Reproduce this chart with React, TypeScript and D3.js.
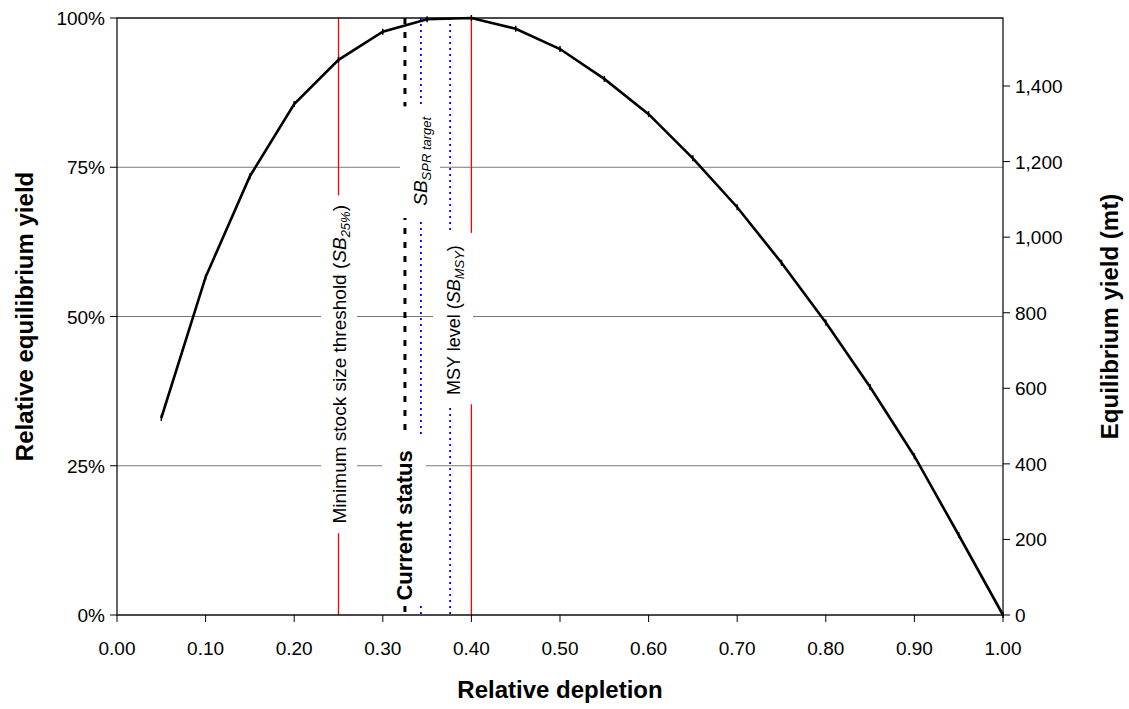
import * as d3 from "d3";

const depletion = [0.05, 0.1, 0.15, 0.2, 0.25, 0.3, 0.35, 0.4, 0.45, 0.5, 0.55, 0.6, 0.65, 0.7, 0.75, 0.8, 0.85, 0.9, 0.95, 1.0];
const relYield = [0.33, 0.566, 0.735, 0.856, 0.93, 0.977, 0.998, 1.0, 0.982, 0.948, 0.898, 0.839, 0.765, 0.683, 0.59, 0.49, 0.382, 0.266, 0.134, 0];
const maxYieldMt = 1580;
const xTicks = d3.range(0, 11).map((i) => i / 10);
const leftTicks = [0, 0.25, 0.5, 0.75, 1];
const rightTicks = [0, 200, 400, 600, 800, 1000, 1200, 1400];
const refLines = [
  { x: 0.25, color: "#ff0000", dash: "", width: 1.3 },
  { x: 0.325, color: "#000", dash: "6,8", width: 3 },
  { x: 0.343, color: "#0000ff", dash: "2,4", width: 1.8 },
  { x: 0.376, color: "#0000ff", dash: "2,4", width: 1.8 },
  { x: 0.4, color: "#ff0000", dash: "", width: 1.3 },
];

const W = 1129, H = 709;
const m = { left: 117, right: 1003, top: 18, bottom: 615 };

export default function App() {
  const x = d3.scaleLinear().domain([0, 1]).range([m.left, m.right]);
  const y = d3.scaleLinear().domain([0, 1]).range([m.bottom, m.top]);
  const y2 = d3.scaleLinear().domain([0, maxYieldMt]).range([m.bottom, m.top]);
  const pts = depletion.map((d, i) => [x(d), y(relYield[i])] as [number, number]);
  const line = d3.line()(pts) || "";
  const font = "Liberation Sans, Arial, sans-serif";
  // white boxes behind the rotated labels
  const boxes = [
    { cx: 339, y0: 0.137, y1: 0.703, hw: 18 },
    { cx: 404, y0: 0.018, y1: 0.298, hw: 22 },
    { cx: 420, y0: 0.665, y1: 0.852, hw: 20 },
    { cx: 453, y0: 0.353, y1: 0.64, hw: 20 },
  ];
  return (
    <svg width={W} height={H} style={{ position: "absolute", left: 0, top: 0 }} fontFamily={font}>
      {leftTicks.map((t) => (
        <line key={t} x1={m.left} x2={m.right} y1={y(t)} y2={y(t)} stroke="#777" strokeWidth={1.2} />
      ))}
      {refLines.map((r) => (
        <line key={r.x} x1={x(r.x)} x2={x(r.x)} y1={m.top} y2={m.bottom} stroke={r.color} strokeWidth={r.width} strokeDasharray={r.dash || undefined} />
      ))}
      {boxes.map((b, i) => (
        <rect key={i} x={b.cx - b.hw} width={b.hw * 2} y={y(b.y1)} height={y(b.y0) - y(b.y1)} fill="#fff" />
      ))}
      <text transform={`translate(346,${y(0.42)}) rotate(-90)`} textAnchor="middle" fontSize={19}>
        Minimum stock size threshold (<tspan fontStyle="italic">SB</tspan><tspan fontStyle="italic" fontSize={13} dy={4}>25%</tspan><tspan dy={-4}>)</tspan>
      </text>
      <text transform={`translate(412,${y(0.15)}) rotate(-90)`} textAnchor="middle" fontSize={22} fontWeight="bold">Current status</text>
      <text transform={`translate(427,${y(0.76)}) rotate(-90)`} textAnchor="middle" fontSize={19} fontStyle="italic">
        SB<tspan fontSize={13} dy={4}>SPR target</tspan>
      </text>
      <text transform={`translate(460,${y(0.494)}) rotate(-90)`} textAnchor="middle" fontSize={18}>
        MSY level (<tspan fontStyle="italic">SB</tspan><tspan fontStyle="italic" fontSize={13} dy={4}>MSY</tspan><tspan dy={-4}>)</tspan>
      </text>
      <path d={line} fill="none" stroke="#000" strokeWidth={2.6} />
      {pts.map(([px, py], i) => (
        <line key={i} x1={px} x2={px} y1={py - 3} y2={py + 3} stroke="#000" strokeWidth={1.5} />
      ))}
      <rect x={m.left} y={m.top} width={m.right - m.left} height={m.bottom - m.top} fill="none" stroke="#000" strokeWidth={1.2} />
      {xTicks.map((t) => (
        <g key={t}>
          <line x1={x(t)} x2={x(t)} y1={m.bottom} y2={m.bottom + 7} stroke="#000" />
          <text x={x(t)} y={m.bottom + 40} textAnchor="middle" fontSize={19}>{t.toFixed(2)}</text>
        </g>
      ))}
      {leftTicks.map((t) => (
        <g key={t}>
          <line x1={m.left - 7} x2={m.left} y1={y(t)} y2={y(t)} stroke="#000" />
          <text x={m.left - 12} y={y(t) + 7} textAnchor="end" fontSize={19}>{`${t * 100}%`}</text>
        </g>
      ))}
      {rightTicks.map((t) => (
        <g key={t}>
          <line x1={m.right} x2={m.right + 7} y1={y2(t)} y2={y2(t)} stroke="#000" />
          <text x={m.right + 12} y={y2(t) + 7} textAnchor="start" fontSize={19}>{d3.format(",")(t)}</text>
        </g>
      ))}
      <text x={(m.left + m.right) / 2} y={698} textAnchor="middle" fontSize={24} fontWeight="bold">Relative depletion</text>
      <text transform={`translate(33,${(m.top + m.bottom) / 2}) rotate(-90)`} textAnchor="middle" fontSize={24} fontWeight="bold">Relative equilibrium yield</text>
      <text transform={`translate(1118,${(m.top + m.bottom) / 2}) rotate(-90)`} textAnchor="middle" fontSize={24} fontWeight="bold">Equilibrium yield (mt)</text>
    </svg>
  );
}
